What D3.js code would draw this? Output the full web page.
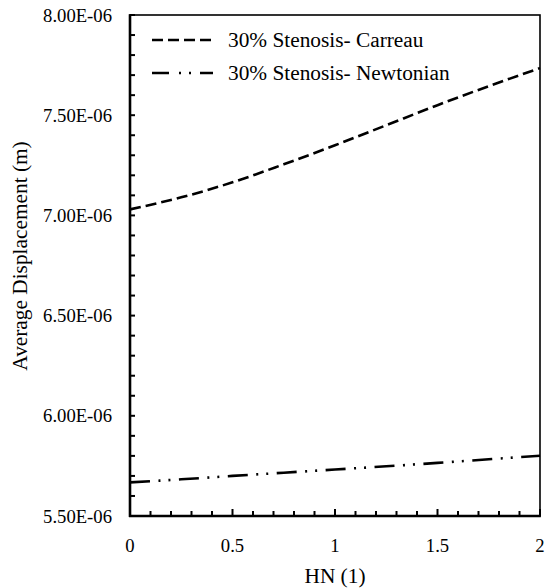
<!DOCTYPE html>
<html>
<head>
<meta charset="utf-8">
<script src="https://cdn.jsdelivr.net/npm/d3@7/dist/d3.min.js"></script>
<style>
  html, body { margin: 0; padding: 0; background: #fff; }
</style>
</head>
<body>
<svg id="chart" width="547" height="588"></svg>
<script>
// HN values along the x axis
const hn = [0, 0.25, 0.5, 0.75, 1, 1.25, 1.5, 1.75, 2];
// Average displacement, in units of 1e-6 m
const carreau = [7.030, 7.090, 7.165, 7.255, 7.350, 7.450, 7.550, 7.645, 7.735];
const newtonian = [5.668, 5.683, 5.700, 5.716, 5.732, 5.748, 5.765, 5.783, 5.801];

const seriesNames = ["30% Stenosis- Carreau", "30% Stenosis- Newtonian"];
const xTickValues = [0, 0.5, 1, 1.5, 2];
const xTickLabels = ["0", "0.5", "1", "1.5", "2"];
const yTickValues = [5.5, 6.0, 6.5, 7.0, 7.5, 8.0];
const yTickLabels = ["5.50E-06", "6.00E-06", "6.50E-06", "7.00E-06", "7.50E-06", "8.00E-06"];

const FONT = "'Liberation Serif'";
const svg = d3.select("#chart");
const plotLeft = 130, plotRight = 540, plotTop = 15, plotBottom = 516;

const x = d3.scaleLinear().domain([0, 2]).range([plotLeft, plotRight]);
const y = d3.scaleLinear().domain([5.5, 8.0]).range([plotBottom, plotTop]);

// minor ticks (inside the frame)
const yMinor = d3.range(55, 81).map(v => v / 10);
const xMinor = d3.range(0, 21).map(v => v / 10);

const g = svg.append("g");

g.selectAll("line.ym").data(yMinor).enter().append("line")
  .attr("x1", plotLeft).attr("x2", plotLeft + 5)
  .attr("y1", d => y(d)).attr("y2", d => y(d))
  .attr("stroke", "#000").attr("stroke-width", 2);

g.selectAll("line.xm").data(xMinor).enter().append("line")
  .attr("x1", d => x(d)).attr("x2", d => x(d))
  .attr("y1", plotBottom)
  .attr("y2", d => plotBottom - (Math.abs(d * 2 - Math.round(d * 2)) < 1e-9 ? 7 : 5))
  .attr("stroke", "#000").attr("stroke-width", 2);

// data lines
const line = d3.line().x((d, i) => x(hn[i])).y(d => y(d)).curve(d3.curveMonotoneX);

g.append("path").datum(carreau)
  .attr("d", line).attr("fill", "none").attr("stroke", "#000")
  .attr("stroke-width", 2.6).attr("stroke-dasharray", "11 5");

g.append("path").datum(newtonian)
  .attr("d", line).attr("fill", "none").attr("stroke", "#000")
  .attr("stroke-width", 2.6).attr("stroke-dasharray", "20 8.5 2 8 2 8.5");

// frame
g.append("rect").attr("x", plotLeft).attr("y", plotTop)
  .attr("width", plotRight - plotLeft).attr("height", plotBottom - plotTop)
  .attr("fill", "none").attr("stroke", "#000").attr("stroke-width", 1.6);
g.append("line").attr("x1", plotLeft).attr("x2", plotLeft).attr("y1", plotTop - 0.8).attr("y2", plotBottom + 1)
  .attr("stroke", "#000").attr("stroke-width", 2.6);
g.append("line").attr("x1", plotLeft - 1).attr("x2", plotRight + 0.8).attr("y1", plotBottom).attr("y2", plotBottom)
  .attr("stroke", "#000").attr("stroke-width", 2.6);

// tick labels
g.selectAll("text.yl").data(yTickValues).enter().append("text")
  .attr("x", 112).attr("y", d => y(d) + 6.5)
  .attr("text-anchor", "end").attr("font-size", 18.67).attr("font-family", FONT)
  .text((d, i) => yTickLabels[i]);

g.selectAll("text.xl").data(xTickValues).enter().append("text")
  .attr("x", d => x(d)).attr("y", 552)
  .attr("text-anchor", "middle").attr("font-size", 18.67).attr("font-family", FONT)
  .text((d, i) => xTickLabels[i]);

// axis titles
svg.append("text").attr("x", (plotLeft + plotRight) / 2).attr("y", 583)
  .attr("text-anchor", "middle").attr("font-size", 21.33).attr("font-family", FONT)
  .text("HN (1)");
svg.append("text")
  .attr("transform", "translate(27,256) rotate(-90)")
  .attr("text-anchor", "middle").attr("font-size", 21.33).attr("font-family", FONT)
  .text("Average Displacement (m)");

// legend
const legend = svg.append("g");
const legendRows = [
  { name: seriesNames[0], dash: "11 5", y: 40 },
  { name: seriesNames[1], dash: "17 10 2 8 2 9", y: 73 }
];
legendRows.forEach(r => {
  legend.append("line").attr("x1", 152).attr("x2", 213)
    .attr("y1", r.y).attr("y2", r.y)
    .attr("stroke", "#000").attr("stroke-width", 2.6)
    .attr("stroke-dasharray", r.dash);
  legend.append("text").attr("x", 228).attr("y", r.y + 7)
    .attr("font-size", 21.33).attr("font-family", FONT)
    .text(r.name);
});
</script>
</body>
</html>
